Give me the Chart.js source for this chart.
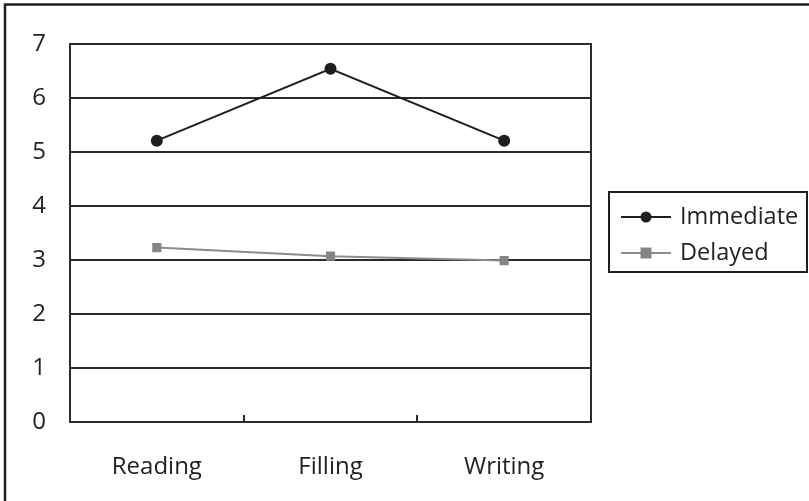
<!DOCTYPE html>
<html>
<head>
<meta charset="utf-8">
<script src="https://cdn.jsdelivr.net/npm/chart.js@4.4.0/dist/chart.umd.min.js"></script>
<style>
  html, body { margin: 0; padding: 0; background: #fff; }
  #wrap { width: 809px; height: 501px; position: relative; }
</style>
</head>
<body>
<div id="wrap"><canvas id="chartContainer" width="809" height="501"></canvas></div>
<script>
// chart data
const categories = ['Reading', 'Filling', 'Writing'];
const immediateValues = [5.21, 6.54, 5.21];
const delayedValues = [3.23, 3.07, 2.99];
const yTicks = [0, 1, 2, 3, 4, 5, 6, 7];

const fontFamily = '"Open Sans", "Noto Sans", sans-serif';
const axisColor = '#2a2a2a';

// frame, category ticks and legend box drawn after the chart
const extrasPlugin = {
    id: 'extras',
    afterDraw: (chart) => {
        const ctx = chart.ctx;
        const area = chart.chartArea;
        const xScale = chart.scales.x;
        ctx.save();

        // outer frame (only left and top are visible in the picture)
        ctx.strokeStyle = '#1e1e1e';
        ctx.lineWidth = 2.5;
        ctx.beginPath();
        ctx.moveTo(5, 501);
        ctx.lineTo(5, 4.5);
        ctx.lineTo(809, 4.5);
        ctx.stroke();

        // right side of the plot
        ctx.strokeStyle = axisColor;
        ctx.lineWidth = 2;
        ctx.beginPath();
        ctx.moveTo(area.right, area.top - 1);
        ctx.lineTo(area.right, area.bottom + 1);
        ctx.stroke();

        // small ticks between categories
        for (let i = 0; i < categories.length - 1; i++) {
            const x = Math.round((xScale.getPixelForValue(i) + xScale.getPixelForValue(i + 1)) / 2);
            ctx.beginPath();
            ctx.moveTo(x, area.bottom);
            ctx.lineTo(x, area.bottom - 7);
            ctx.stroke();
        }

        // legend
        const boxX = 609, boxY = 192, boxW = 198, boxH = 80;
        ctx.strokeStyle = '#1e1e1e';
        ctx.lineWidth = 2;
        ctx.strokeRect(boxX, boxY, boxW, boxH);
        ctx.font = '23.5px ' + fontFamily;
        ctx.textBaseline = 'middle';
        ctx.textAlign = 'left';
        chart.data.datasets.forEach((ds, i) => {
            const y = 217 + i * 36;
            ctx.strokeStyle = ds.borderColor;
            ctx.lineWidth = ds.borderWidth;
            ctx.beginPath();
            ctx.moveTo(621, y);
            ctx.lineTo(671, y);
            ctx.stroke();
            ctx.fillStyle = ds.pointBackgroundColor;
            if (ds.pointStyle === 'rect') {
                ctx.fillRect(646 - 5.5, y - 5.5, 11, 11);
            } else {
                ctx.beginPath();
                ctx.arc(646, y, 5.5, 0, Math.PI * 2);
                ctx.fill();
            }
            ctx.fillStyle = '#222';
            ctx.fillText(ds.label, 680, y);
        });
        ctx.restore();
    }
};

const ctx = document.getElementById('chartContainer').getContext('2d');
window.resultChart = new Chart(ctx, {
    type: 'line',
    data: {
        labels: categories,
        datasets: [{
            label: 'Immediate',
            data: immediateValues,
            borderColor: '#1e1e1e',
            borderWidth: 2,
            pointStyle: 'circle',
            pointRadius: 6,
            pointBackgroundColor: '#1e1e1e',
            pointBorderWidth: 0,
            tension: 0
        }, {
            label: 'Delayed',
            data: delayedValues,
            borderColor: '#8c8c8c',
            borderWidth: 2,
            pointStyle: 'rect',
            pointRadius: 6.5,
            pointBackgroundColor: '#858585',
            pointBorderWidth: 0,
            tension: 0
        }]
    },
    options: {
        responsive: false,
        animation: false,
        layout: { padding: { top: 44, right: 218, left: 0, bottom: 0 } },
        plugins: {
            legend: { display: false },
            tooltip: { enabled: false }
        },
        scales: {
            x: {
                type: 'category',
                offset: true,
                grid: { display: false },
                border: { display: true, color: axisColor, width: 2 },
                ticks: {
                    color: '#222',
                    font: { family: fontFamily, size: 24 },
                    padding: 23,
                    maxRotation: 0
                },
                afterFit: (scale) => { scale.height = 79; }
            },
            y: {
                min: 0,
                max: 7,
                afterBuildTicks: (scale) => { scale.ticks = yTicks.map(v => ({ value: v })); },
                grid: { color: axisColor, lineWidth: 2, drawTicks: false },
                border: { display: true, color: axisColor, width: 2 },
                ticks: {
                    color: '#222',
                    font: { family: fontFamily, size: 24 },
                    padding: 24
                },
                afterFit: (scale) => { scale.width = 70; }
            }
        }
    },
    plugins: [extrasPlugin]
});
</script>
</body>
</html>
